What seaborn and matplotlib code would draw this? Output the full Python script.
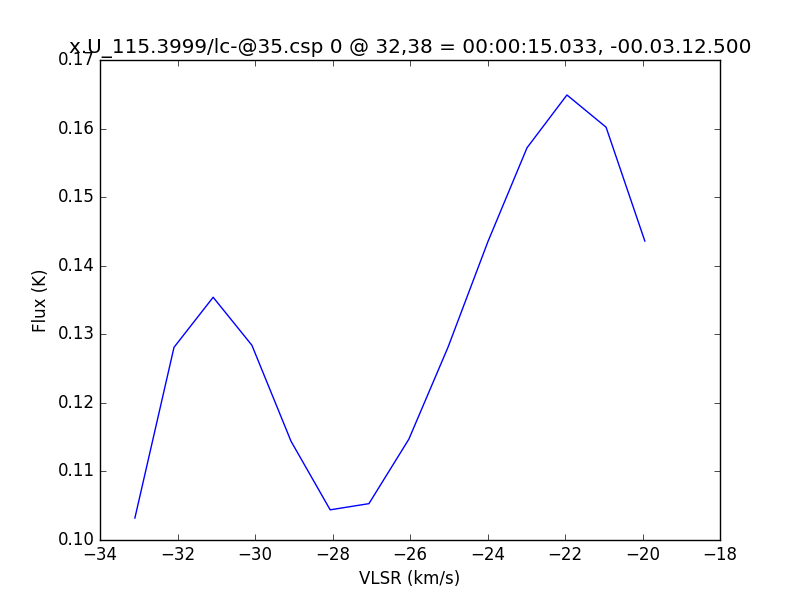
import numpy as np
import pandas as pd
import seaborn as sns
import matplotlib
matplotlib.use("Agg")
import matplotlib.pyplot as plt

# Spectrum values
vlsr = [-33.10, -32.09, -31.08, -30.08, -29.07, -28.06, -27.06,
        -26.03, -25.02, -23.99, -22.98, -21.95, -20.94, -19.94]
flux = [0.1032, 0.1281, 0.1354, 0.1284, 0.1144, 0.1044, 0.1053,
        0.1147, 0.1281, 0.1435, 0.1572, 0.1649, 0.1602, 0.1436]

title = "x.U_115.3999/lc-@35.csp 0 @ 32,38 = 00:00:15.033, -00.03.12.500"

plt.style.use("classic")
df = pd.DataFrame({"vlsr": vlsr, "flux": flux})

fig = plt.figure(figsize=(8, 6), dpi=100)
fig.patch.set_facecolor("white")
ax = fig.add_axes([0.125, 0.1, 0.775, 0.8])
sns.lineplot(data=df, x="vlsr", y="flux", color="blue", linewidth=1, ax=ax)

ax.set_xlim(-34, -18)
ax.set_ylim(0.10, 0.17)
ax.set_xticks(np.arange(-34, -17, 2))
ax.set_yticks(np.arange(0.10, 0.171, 0.01))
ax.set_yticklabels([f"{v:.2f}" for v in np.arange(0.10, 0.171, 0.01)])
ax.set_xlabel("VLSR (km/s)")
ax.set_ylabel("Flux (K)")
ax.set_title(title)

fig.savefig("out.png", dpi=100, facecolor="white")
